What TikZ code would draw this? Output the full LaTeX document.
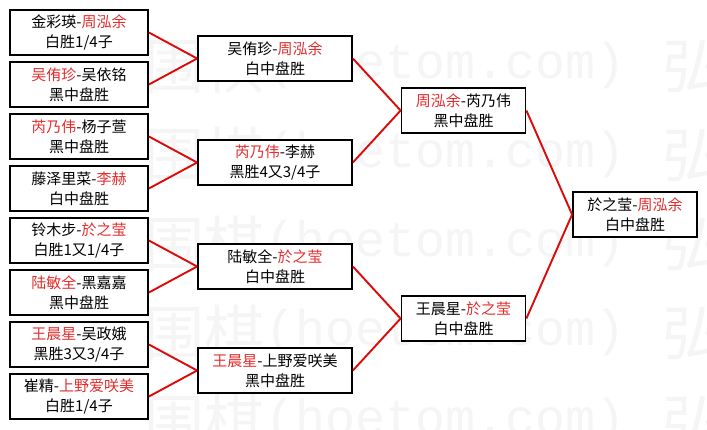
\documentclass[tikz,border=0pt]{standalone}
\usepackage{fontspec}
\setmainfont{Noto Sans CJK SC}
\newfontfamily\markfont{Liberation Mono}
\usepackage{xcolor}
\usepackage{tikz}
\definecolor{winred}{RGB}{228,45,45}
\definecolor{linkred}{RGB}{222,10,10}
\definecolor{markgray}{RGB}{245,245,245}
\tikzset{ match_box/.style = {rectangle, draw, line width=1.8pt, fill=white, align=center, inner sep=0pt, minimum height=45pt, font=\fontsize{15}{20}\selectfont} }
\tikzset{ red_link/.style = {draw=linkred, line width=1.9pt} }
\tikzset{ mark_text/.style = {text=markgray, inner sep=0pt} }
\newcommand{\win}[1]{\textcolor{winred}{#1}}

\begin{document}
\begin{tikzpicture}[x=1pt,y=-1pt]
            \useasboundingbox (0,0) rectangle (707,429);
            \fill[white] (0,0) rectangle (707,429);
            % watermark
            \foreach \wy in {66,155,244,333,422} {
                \node [mark_text, anchor=east, font=\fontsize{60}{60}\selectfont] (wa\wy) at (265,\wy) {围棋};
                \node [mark_text, anchor=west, font=\markfont\fontsize{50}{50}\selectfont] (wb\wy) at (265,\wy) {(hoetom.com)};
                \node [mark_text, anchor=west, font=\fontsize{60}{60}\selectfont] (wc\wy) at (662,\wy) {弘};
            }
            % first round
            \node [style=match_box, minimum width=138pt] (q1) at (79, 32.5) {金彩瑛-\win{周泓余}\\白胜1/4子};
            \node [style=match_box, minimum width=138pt] (q2) at (79, 84.5) {\win{吴侑珍}-吴依铭\\黑中盘胜};
            \node [style=match_box, minimum width=138pt] (q3) at (79, 136.5) {\win{芮乃伟}-杨子萱\\黑中盘胜};
            \node [style=match_box, minimum width=138pt] (q4) at (79, 188.5) {藤泽里菜-\win{李赫}\\白中盘胜};
            \node [style=match_box, minimum width=138pt] (q5) at (79, 240.5) {铃木步-\win{於之莹}\\白胜1又1/4子};
            \node [style=match_box, minimum width=138pt] (q6) at (79, 292.5) {\win{陆敏全}-黑嘉嘉\\黑中盘胜};
            \node [style=match_box, minimum width=138pt] (q7) at (79, 344.5) {\win{王晨星}-吴政娥\\黑胜3又3/4子};
            \node [style=match_box, minimum width=138pt] (q8) at (79, 396.5) {崔精-\win{上野爱咲美}\\白胜1/4子};
            % second round
            \node [style=match_box, minimum width=154pt] (s1) at (275, 58.5) {吴侑珍-\win{周泓余}\\白中盘胜};
            \node [style=match_box, minimum width=154pt] (s2) at (275, 162.5) {\win{芮乃伟}-李赫\\黑胜4又3/4子};
            \node [style=match_box, minimum width=154pt] (s3) at (275, 266.5) {陆敏全-\win{於之莹}\\白中盘胜};
            \node [style=match_box, minimum width=154pt] (s4) at (275, 370.5) {\win{王晨星}-上野爱咲美\\黑中盘胜};
            % semifinals and final
            \node [style=match_box, minimum width=124pt] (f1) at (463.5, 110.5) {\win{周泓余}-芮乃伟\\黑中盘胜};
            \node [style=match_box, minimum width=124pt] (f2) at (463.5, 318.5) {王晨星-\win{於之莹}\\白中盘胜};
            \node [style=match_box, minimum width=124pt] (w) at (635, 214.5) {於之莹-\win{周泓余}\\白中盘胜};
            \foreach \a/\b in {q1/s1,q2/s1,q3/s2,q4/s2,q5/s3,q6/s3,q7/s4,q8/s4,s1/f1,s2/f1,s3/f2,s4/f2,f1/w,f2/w}
                \draw[style=red_link] (\a.east) to (\b.west);
       \end{tikzpicture}
\end{document}
